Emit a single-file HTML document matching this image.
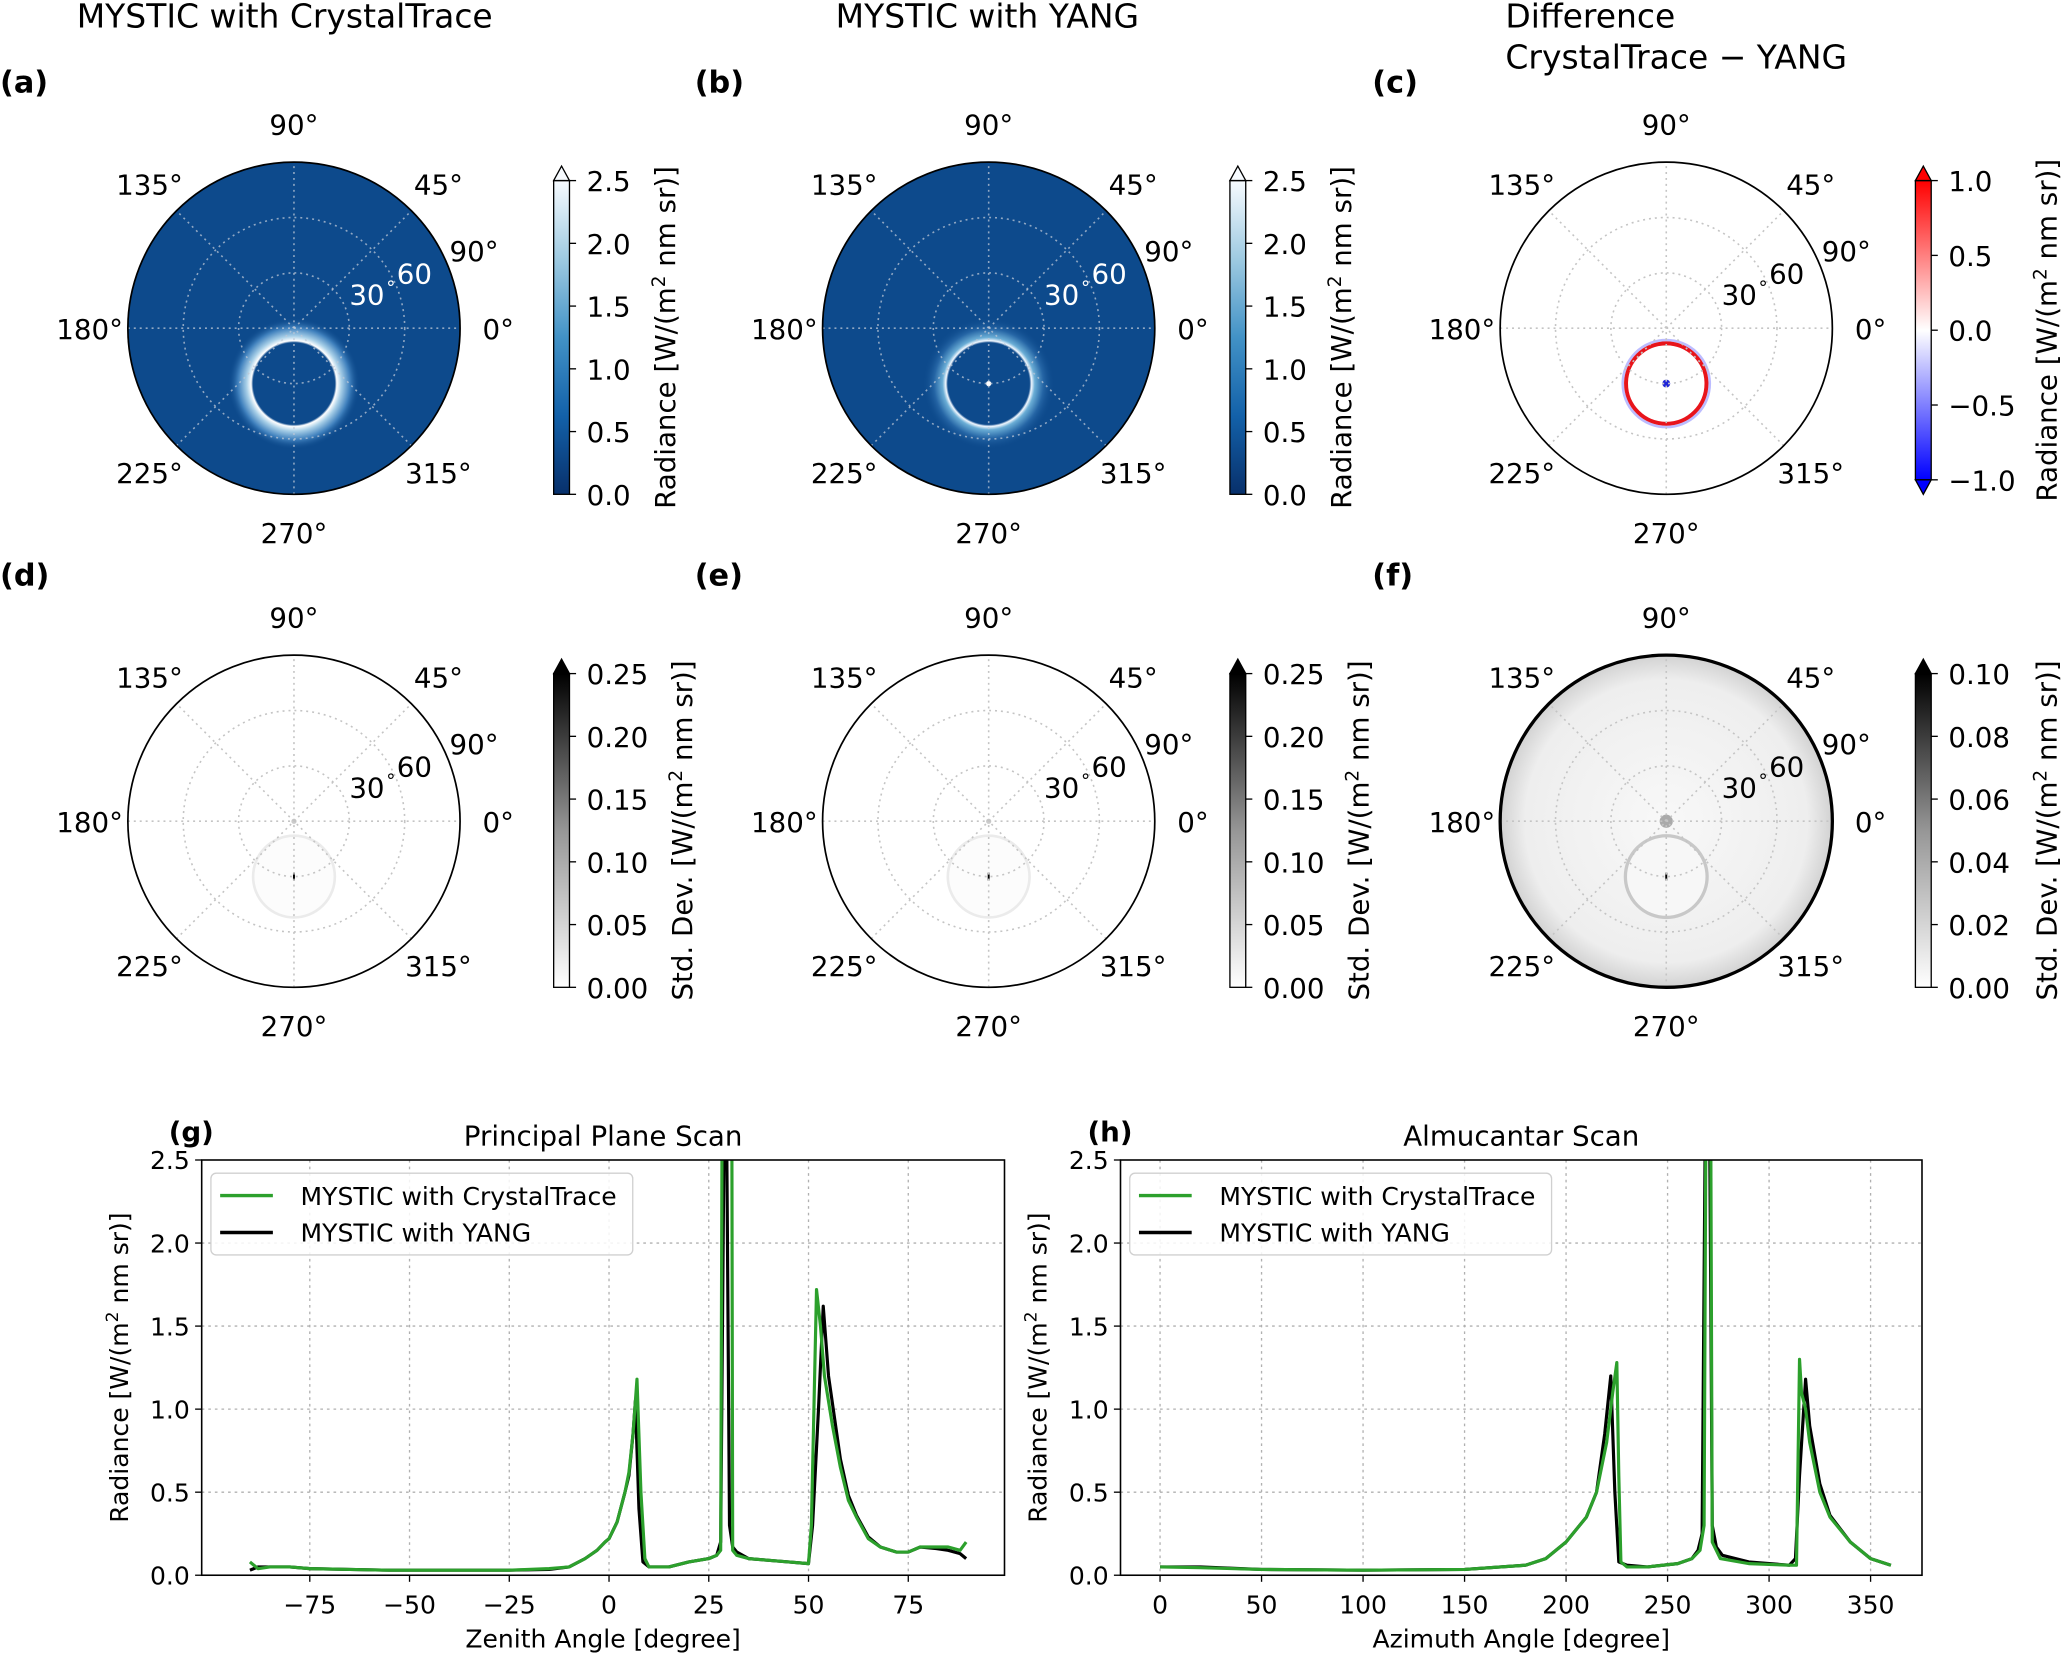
<!DOCTYPE html>
<html><head><meta charset="utf-8">
<style>
html,body{margin:0;padding:0;background:#fff;}
svg{display:block;font-family:"DejaVu Sans","Liberation Sans",sans-serif;}
</style></head>
<body>
<svg id="fig" width="2067" height="1653" viewBox="0 0 1568 1254" preserveAspectRatio="none" xmlns="http://www.w3.org/2000/svg">
<defs>
<linearGradient id="cmBlues" x1="0" y1="1" x2="0" y2="0">
<stop offset="0" stop-color="#08306b"/><stop offset="0.25" stop-color="#1361a9"/><stop offset="0.5" stop-color="#4292c6"/><stop offset="0.75" stop-color="#9ecae1"/><stop offset="1" stop-color="#f7fbff"/></linearGradient>
<linearGradient id="cmBwr" x1="0" y1="1" x2="0" y2="0">
<stop offset="0" stop-color="#0000ff"/><stop offset="0.5" stop-color="#ffffff"/><stop offset="1" stop-color="#ff0000"/></linearGradient>
<linearGradient id="cmGreys" x1="0" y1="1" x2="0" y2="0">
<stop offset="0" stop-color="#ffffff"/><stop offset="0.5" stop-color="#969696"/><stop offset="1" stop-color="#000000"/></linearGradient>
<radialGradient id="haloA"><stop offset="0" stop-color="#0d4a8c"/><stop offset="0.62" stop-color="#0d4a8c"/><stop offset="0.65" stop-color="#ffffff"/><stop offset="0.72" stop-color="#a9d0e8"/><stop offset="0.85" stop-color="#3f80bd"/><stop offset="1" stop-color="#0d4a8c" stop-opacity="0"/></radialGradient>
<radialGradient id="haloB"><stop offset="0" stop-color="#0d4a8c"/><stop offset="0.62" stop-color="#0d4a8c"/><stop offset="0.65" stop-color="#f2f8ff"/><stop offset="0.7" stop-color="#6baed6"/><stop offset="0.83" stop-color="#2565a5"/><stop offset="1" stop-color="#0d4a8c" stop-opacity="0"/></radialGradient>
<radialGradient id="bgF"><stop offset="0" stop-color="#f8f8f8"/><stop offset="0.85" stop-color="#eeeeee"/><stop offset="1" stop-color="#d2d2d2"/></radialGradient>
</defs>
<g id="polars"></g>
<g id="scans"></g>
</svg>
<script>
// ---------- data: principal plane scan ----------
const ppX_ct = [-90,-88,-85,-80,-75,-65,-55,-45,-35,-25,-15,-10,-6,-3,-1,0,2,4,5,6,7,8,9,10,15,20,25,27,28,28.3,30.8,31,32,35,40,45,50,50.7,52,53,54,56,58,60,62,65,68,72,75,78,82,85,88,89.5];
const ppY_ct = [0.08,0.04,0.05,0.05,0.04,0.035,0.03,0.03,0.03,0.03,0.04,0.05,0.1,0.15,0.2,0.22,0.32,0.5,0.62,0.85,1.18,0.5,0.1,0.05,0.05,0.08,0.1,0.12,0.15,2.6,2.6,0.15,0.12,0.1,0.09,0.08,0.07,0.3,1.72,1.5,1.2,0.9,0.65,0.45,0.35,0.22,0.17,0.14,0.14,0.17,0.17,0.17,0.15,0.2];
const ppX_y = [-90,-88,-85,-80,-75,-65,-55,-45,-35,-25,-15,-10,-6,-3,-1,0,2,4,5,6,6.6,7.5,8.5,10,15,20,25,27,28,28.8,29.5,30.2,31,32,35,40,45,50,51,52.5,53.7,55,58,60,62,65,68,72,75,78,82,85,88,89.5];
const ppY_y = [0.03,0.05,0.05,0.05,0.04,0.035,0.03,0.03,0.03,0.03,0.035,0.05,0.1,0.15,0.2,0.22,0.32,0.5,0.6,0.85,1.05,0.4,0.08,0.05,0.05,0.08,0.1,0.12,0.2,2.6,2.6,0.3,0.17,0.14,0.1,0.09,0.08,0.07,0.3,1.0,1.62,1.2,0.7,0.48,0.36,0.23,0.17,0.14,0.14,0.17,0.16,0.15,0.13,0.1];
// ---------- data: almucantar scan ----------
const amX_ct = [0,20,50,100,150,180,190,200,210,215,220,223,225,226,227,230,240,255,262,266,268,268.8,271.3,272,276,290,310,313.5,315,316,318,320,325,330,340,350,360];
const amY_ct = [0.05,0.045,0.035,0.03,0.035,0.06,0.1,0.2,0.35,0.5,0.8,1.1,1.28,0.6,0.08,0.05,0.05,0.07,0.1,0.15,0.3,2.6,2.6,0.2,0.1,0.07,0.06,0.06,1.3,1.1,1.0,0.8,0.5,0.35,0.2,0.1,0.06];
const amX_y = [0,20,50,100,150,180,190,200,210,215,219,222,224,226,230,240,255,262,265,267,268.5,270.8,272,274,277,290,310,313,315,318,320,325,330,340,350,360];
const amY_y = [0.05,0.05,0.035,0.03,0.035,0.06,0.1,0.2,0.35,0.5,0.85,1.2,0.5,0.08,0.06,0.05,0.07,0.1,0.15,0.25,2.6,2.6,0.3,0.17,0.12,0.08,0.06,0.1,0.6,1.18,0.9,0.55,0.36,0.2,0.1,0.06];
const yTicks = [0.0,0.5,1.0,1.5,2.0,2.5];
const ppTicks = [-75,-50,-25,0,25,50,75];
const amTicks = [0,50,100,150,200,250,300,350];
// ---------- data: colorbar ticks ----------
const cbRad = [0.0,0.5,1.0,1.5,2.0,2.5];
const cbDiff = [-1.0,-0.5,0.0,0.5,1.0];
const cbStd = [0.00,0.05,0.10,0.15,0.20,0.25];
const cbStdF = [0.00,0.02,0.04,0.06,0.08,0.10];

const NS = "http://www.w3.org/2000/svg";
function mk(tag, attrs, parent){
  const e = document.createElementNS(NS, tag);
  for (const k in attrs) e.setAttribute(k, attrs[k]);
  (parent || document.getElementById('fig')).appendChild(e);
  return e;
}
function txt(s, x, y, size, parent, extra){
  const a = Object.assign({x:x, y:y, 'font-size':size, fill:'#000'}, extra||{});
  const t = mk('text', a, parent);
  t.textContent = s;
  return t;
}
const fmt = v => v.toFixed(1).replace('-', '\u2212');
const fmt2 = v => v.toFixed(2).replace('-', '\u2212');

// ---------- polar panels ----------
const PR = 126;
function polar(cx, cy, kind, letter, lx, ly){
  const g = mk('g', {}, document.getElementById('polars'));
  
  
  let bg = '#fff';
  if (kind==='a'||kind==='b') bg = '#0d4a8c';
  if (kind==='f') bg = 'url(#bgF)';
  const disk = mk('circle', {cx:cx, cy:cy, r:PR, fill:bg}, g);
  
  
  const sy = cy + PR*30/90;
  if (kind==='a'||kind==='b'){
    const h = mk('circle', {cx:cx, cy:sy, r:50, fill: kind==='a'?'url(#haloA)':'url(#haloB)'}, g);
    
    
    if (kind==='b'){ const d = mk('circle',{cx:cx,cy:sy,r:2,fill:'#fff'},g);
      
       }
  }
  if (kind==='c'){
    const r1 = mk('circle',{cx:cx,cy:sy,r:33,fill:'none',stroke:'#8f8fff','stroke-width':2,opacity:0.6},g);
    
    
    const r2 = mk('circle',{cx:cx,cy:sy,r:30.5,fill:'none',stroke:'#e8141b','stroke-width':3},g);
    
    
    const d = mk('circle',{cx:cx,cy:sy,r:3,fill:'#1f24d8'},g);
    
    
  }
  if (kind==='d'||kind==='e'||kind==='f'){
    const ring = mk('circle',{cx:cx,cy:sy,r:31,fill:kind==='f'?'#f7f7f7':'#fcfcfc',stroke:kind==='f'?'#c8c8c8':'#ebebeb','stroke-width':kind==='f'?2.5:2},g);
    
    
    const s = mk('line',{x1:cx,y1:sy-3,x2:cx,y2:sy+3,stroke:'#000','stroke-width':1.5},g);
    
    
    const z = mk('circle',{cx:cx,cy:cy,r:kind==='f'?5:2,fill:kind==='f'?'#aaa':'#ccc'},g);
    
    
  }
  const gc = (kind==='a'||kind==='b') ? 'rgba(190,200,215,0.75)' : '#c4c4c4';
  for (const rr of [1,2]){
    const c = mk('circle',{cx:cx,cy:cy,r:PR*rr/3,fill:'none',stroke:gc,'stroke-width':1.2,'stroke-dasharray':'1.5 3'},g);
    
    
  }
  for (let a=0; a<180; a+=45){
    const rad = a*Math.PI/180;
    const l = mk('line',{x1:cx-PR*Math.cos(rad),y1:cy+PR*Math.sin(rad),x2:cx+PR*Math.cos(rad),y2:cy-PR*Math.sin(rad),stroke:gc,'stroke-width':1.2,'stroke-dasharray':'1.5 3'},g);
    
    
  }
  const ol = mk('circle',{cx:cx,cy:cy,r:PR,fill:'none',stroke:'#000','stroke-width':kind==='f'?2.5:1.3},g);
  
  
  for (let a=0; a<360; a+=45){
    const rad = a*Math.PI/180;
    const R = 155;
    const t = txt(a+'\u00b0', cx+R*Math.cos(rad), cy-R*Math.sin(rad)+8, 21, g, {'text-anchor':'middle'});
    
    
  }
  const inner = (kind==='a'||kind==='b') ? '#fff' : '#000';
  const r30 = txt('30', cx+42, cy-18, 21, g, {fill:inner}); 
  
  
  const r60 = txt('60', cx+78, cy-34, 21, g, {fill:inner});
  
  
  const deg = txt('\u00b0', cx+70, cy-26, 14, g, {fill:inner});
  
  
  const r90 = txt('90\u00b0', cx+118, cy-51, 21, g);
  
  
  const pl = txt('('+letter+')', lx, ly, 23, g, {'font-weight':'bold'});
  
  
}
// ---------- colorbars ----------
function colorbar(x, top, bot, grad, ticks, f, label, upArrow, downArrow){
  const g = mk('g', {}, document.getElementById('polars'));
  
  
  const w = 12;
  const r = mk('rect',{x:x,y:top,width:w,height:bot-top,fill:'url(#'+grad+')',stroke:'#000','stroke-width':1},g);
  
  
  if (upArrow){
    const p = mk('path',{d:`M${x} ${top} L${x+w/2} ${top-11} L${x+w} ${top} Z`,fill:upArrow,stroke:'#000','stroke-width':1},g);
    
    
  }
  if (downArrow){
    const p = mk('path',{d:`M${x} ${bot} L${x+w/2} ${bot+11} L${x+w} ${bot} Z`,fill:downArrow,stroke:'#000','stroke-width':1},g);
    
    
  }
  const lo = ticks[0], hi = ticks[ticks.length-1];
  for (const v of ticks){
    const y = bot - (v-lo)/(hi-lo)*(bot-top);
    const tk = mk('line',{x1:x+w,y1:y,x2:x+w+5,y2:y,stroke:'#000','stroke-width':1},g);
    
    
    const t = txt(f(v), x+w+13, y+8, 21, g);
    
    
  }
  const lt = txt('', 0, 0, 21, g, {'text-anchor':'middle',transform:`translate(${label[1]},${(top+bot)/2}) rotate(-90)`});
  lt.innerHTML = label[0];
  
  
}
const radLab = ['Radiance [W/(m<tspan baseline-shift="super" font-size="14">2</tspan> nm sr)]'];
const stdLab = ['Std. Dev. [W/(m<tspan baseline-shift="super" font-size="14">2</tspan> nm sr)]'];

polar(223,249,'a','a',0,70);
polar(750,249,'b','b',527,70);
polar(1264,249,'c','c',1041,70);
polar(223,623,'d','d',0,444);
polar(750,623,'e','e',527,444);
polar(1264,623,'f','f',1041,444);
colorbar(420,137,375,'cmBlues',cbRad,fmt,[radLab[0],512],'#f7fbff',null);
colorbar(933,137,375,'cmBlues',cbRad,fmt,[radLab[0],1025],'#f7fbff',null);
colorbar(1453,137,364,'cmBwr',cbDiff,fmt,[radLab[0],1560],'#ff0000','#0000ff');
colorbar(420,511,749,'cmGreys',cbStd,fmt2,[stdLab[0],525],'#000',null);
colorbar(933,511,749,'cmGreys',cbStd,fmt2,[stdLab[0],1038],'#000',null);
colorbar(1453,511,749,'cmGreys',cbStdF,fmt2,[stdLab[0],1560],'#000',null);

// column titles
const titles = [['MYSTIC with CrystalTrace',216,21,'middle'],['MYSTIC with YANG',749,21,'middle'],['Difference',1142,21,'start'],['CrystalTrace \u2212 YANG',1142,52,'start']];
for (const t of titles){
  const e = txt(t[0], t[1], t[2], 25, null, {'text-anchor':t[3]});
  
  
}

// ---------- line charts ----------
function lineChart(L, R, x0v, x1v, x0p, x1p, ticks, seriesX, seriesY, title, xlabel, letter, ylx){
  const T = 880, B = 1195;
  const g = mk('g', {}, document.getElementById('scans'));
  
  
  const xs = v => x0p + (v-x0v)/(x1v-x0v)*(x1p-x0p);
  const ys = v => B - v/2.5*(B-T);
  const clip = mk('clipPath',{id:'clip'+letter},g);
  mk('rect',{x:L,y:T,width:R-L,height:B-T},clip);
  for (const v of ticks){
    const gl = mk('line',{x1:xs(v),y1:T,x2:xs(v),y2:B,stroke:'#b0b0b0','stroke-width':1,'stroke-dasharray':'2 3'},g);
    
    
    const tk = mk('line',{x1:xs(v),y1:B,x2:xs(v),y2:B+5,stroke:'#000'},g);
    
    
    const tl = txt(String(v).replace('-','\u2212'), xs(v), B+29, 19, g, {'text-anchor':'middle'});
    
    
  }
  for (const v of yTicks){
    if (v>0 && v<2.5){
      const gl = mk('line',{x1:L,y1:ys(v),x2:R,y2:ys(v),stroke:'#b0b0b0','stroke-width':1,'stroke-dasharray':'2 3'},g);
      
      
    }
    const tk = mk('line',{x1:L-5,y1:ys(v),x2:L,y2:ys(v),stroke:'#000'},g);
    
    
    const tl = txt(v.toFixed(1), L-9, ys(v)+7, 19, g, {'text-anchor':'end'});
    
    
  }
  const cols = ['#2ca02c','#000000'];
  const names = ['series-crystaltrace','series-yang'];
  for (const i of [1,0]){
    const d = seriesX[i].map((v,k)=>(k?'L':'M')+xs(v).toFixed(1)+' '+ys(seriesY[i][k]).toFixed(1)).join(' ');
    const p = mk('path',{d:d,fill:'none',stroke:cols[i],'stroke-width':2.4,'stroke-linejoin':'round','clip-path':'url(#clip'+letter+')'},g);
    
    
  }
  const fr = mk('rect',{x:L,y:T,width:R-L,height:B-T,fill:'none',stroke:'#000','stroke-width':1.2},g);
  
  
  const lg = mk('g',{},g);
  
  
  const lb = mk('rect',{x:L+7,y:T+10,width:320,height:62,rx:4,fill:'#fff','fill-opacity':0.85,stroke:'#d0d0d0'},lg);
  
  
  const labs = ['MYSTIC with CrystalTrace','MYSTIC with YANG'];
  for (let i=0;i<2;i++){
    const yy = T+27+i*28;
    const ln = mk('line',{x1:L+14,y1:yy,x2:L+54,y2:yy,stroke:cols[i],'stroke-width':2.6},lg);
    
    
    const lt = txt(labs[i], L+75, yy+7, 19, lg);
    
    
  }
  const tt = txt(title, (L+R)/2, 869, 21, g, {'text-anchor':'middle'});
  
  
  const pl = txt('('+letter+')', L-25, 866, 21, g, {'font-weight':'bold'});
  
  
  const xl = txt(xlabel, (L+R)/2, 1250, 19, g, {'text-anchor':'middle'});
  
  
  const yl = txt('', 0, 0, 19, g, {'text-anchor':'middle',transform:`translate(${ylx},${(T+B)/2}) rotate(-90)`});
  yl.innerHTML = 'Radiance [W/(m<tspan baseline-shift="super" font-size="13">2</tspan> nm sr)]';
  
  
}
lineChart(153,762,-75,75,235,689,ppTicks,[ppX_ct,ppX_y],[ppY_ct,ppY_y],'Principal Plane Scan','Zenith Angle [degree]','g',97);
lineChart(850,1458,0,350,880,1419,amTicks,[amX_ct,amX_y],[amY_ct,amY_y],'Almucantar Scan','Azimuth Angle [degree]','h',794);
</script>
</body></html>
